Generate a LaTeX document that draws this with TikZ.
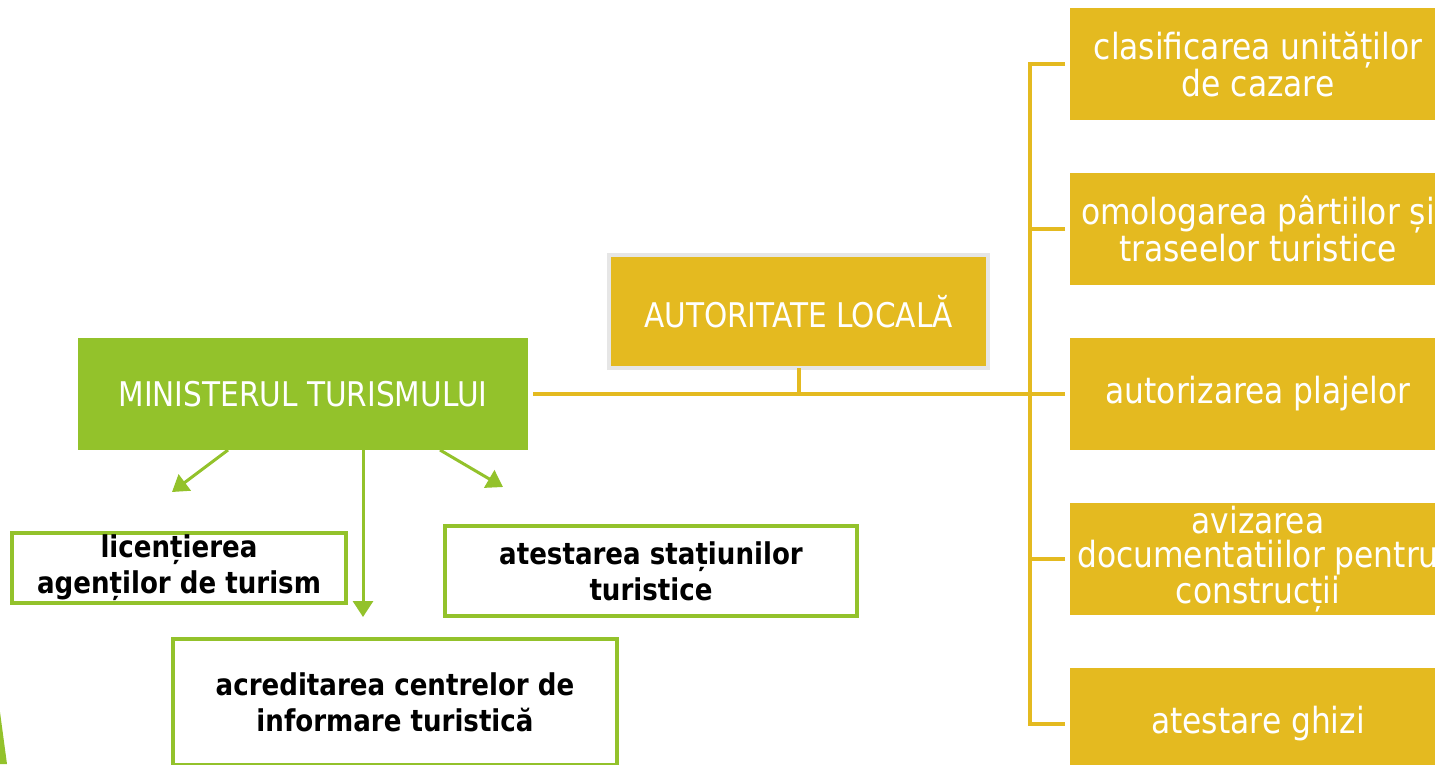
\documentclass[tikz,border=0pt]{standalone}
\usepackage{fontspec}
\setmainfont{DejaVu Sans}[FakeStretch=0.87]
\usetikzlibrary{arrows.meta}
\definecolor{gold}{HTML}{E4BA20}
\definecolor{lgreen}{HTML}{93C22B}
\definecolor{lgray}{HTML}{E6E6E6}
\tikzset{
  ybox/.style={fill=gold, draw=none, minimum width=376pt, minimum height=112pt, inner sep=0pt, outer sep=0pt},
  ytext/.style={text=white, font=\fontsize{36}{34}\selectfont, align=center, inner sep=0pt},
  goldline/.style={draw=gold, line width=4pt},
  garrow/.style={draw=lgreen, line width=3pt, -{Triangle[length=16pt,width=20pt]}},
  gbox/.style={draw=lgreen, line width=4pt, fill=white, inner sep=0pt, outer sep=0pt},
  btext/.style={font=\bfseries\fontsize{30}{36}\selectfont, align=center},
  capbox/.style={text=white, font=\fontsize{34}{40}\selectfont, inner sep=0pt, outer sep=0pt}
}
\begin{document}
\begin{tikzpicture}[x=1pt,y=-1pt]
\useasboundingbox (0,0) rectangle (1435,764);
\clip (0,0) rectangle (1435,764);
% decoration sliver
\fill[lgreen] (0,712) -- (7,764) -- (0,764) -- cycle;
% right boxes
\node[ybox] (r1) at (1258,64) {};
\node[ybox] (r2) at (1258,229) {};
\node[ybox] (r3) at (1258,394) {};
\node[ybox] (r4) at (1258,559) {};
\node[ybox] (r5) at (1258,724) {};
\node[ytext] (t1) at (r1) {clasificarea unităților\\de cazare};
\node[ytext] (t2) at (r2) {omologarea pârtiilor și\\traseelor turistice};
\node[ytext] (t3) at (r3) {autorizarea plajelor};
\node[ytext] (t4) at (r4) {avizarea\\documentatiilor pentru\\construcții};
\node[ytext] (t5) at (r5) {atestare ghizi};
% main boxes
\node[capbox, fill=lgreen, minimum width=450pt, minimum height=112pt] (mt) at (303,394) {MINISTERUL TURISMULUI};
\node[capbox, fill=gold, draw=lgray, line width=4pt, minimum width=379pt, minimum height=113pt] (al) at (798.5,311.5) {AUTORITATE LOCALĂ};
% gold connectors
\draw[goldline] ([xshift=5pt]mt.east) -- ([xshift=-5pt]r3.west);
\draw[goldline] (al.south) -- (al.south |- mt.east);
\draw[goldline] ([xshift=-5pt]r1.west) -- ++(-35,0) |- ([xshift=-5pt]r5.west);
\draw[goldline] ([xshift=-5pt]r2.west) -- ++(-35,0);
\draw[goldline] ([xshift=-5pt]r4.west) -- ++(-35,0);
% bottom boxes
\node[gbox, btext, minimum width=334pt, minimum height=70pt] (b1) at (179,568) {licențierea\\agenților de turism};
\node[gbox, btext, minimum width=412pt, minimum height=90pt] (b2) at (651,571) {atestarea stațiunilor\\turistice};
\node[gbox, btext, minimum width=444pt, minimum height=126pt] (b3) at (395,702) {acreditarea centrelor de\\informare turistică};
% green arrows
\coordinate (a1) at (172,492);
\coordinate (a2) at (363,617);
\coordinate (a3) at (503,487);
\draw[garrow] ([xshift=-75pt]mt.south) -- (a1);
\draw[garrow] ([xshift=60pt]mt.south) -- (a2);
\draw[garrow] ([xshift=137pt]mt.south) -- (a3);
\end{tikzpicture}
\end{document}
